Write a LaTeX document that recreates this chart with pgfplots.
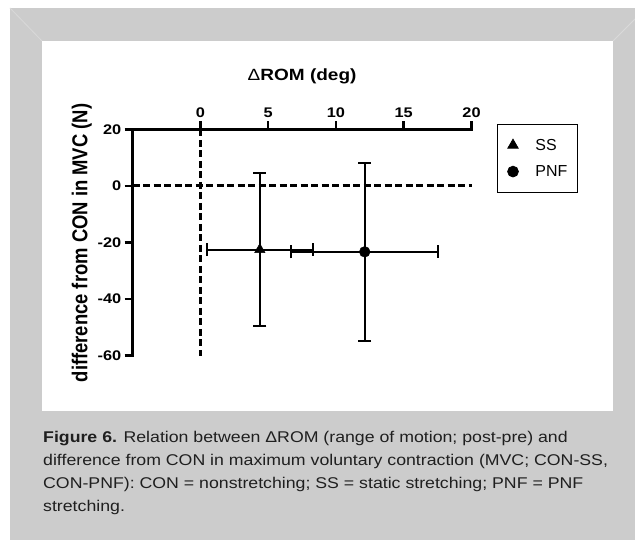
\documentclass[border=0pt]{standalone}
\usepackage{pgfplots}
\pgfplotsset{compat=1.18}
\usepackage{graphicx}
\usetikzlibrary{arrows.meta}
\usepackage{fontspec}
\setmainfont{Liberation Sans}
\newfontfamily\widesans{Liberation Sans}[FakeStretch=1.17]
\newfontfamily\capsans{Liberation Sans}[FakeStretch=1.14]
\definecolor{framegray}{HTML}{CCCCCC}
\definecolor{bevel}{HTML}{D9D9D9}
\begin{document}
\begin{tikzpicture}
\useasboundingbox (0,0) rectangle (635bp,540bp);
\fill[white] (0,0) rectangle (635bp,540bp);
\fill[framegray] (10bp,0bp) rectangle (635bp,532bp);
\fill[white] (42bp,129bp) rectangle (613bp,499bp);
\draw[bevel, line width=0.8bp] (10bp,532bp) -- (42bp,499bp);
\draw[bevel, line width=0.8bp] (635bp,521bp) -- (613bp,499bp);
\begin{axis}[
  scale only axis, width=338.8bp, height=226.4bp,
  at={(132.7bp,184.3bp)}, anchor=south west,
  xmin=-5, xmax=20, ymin=-60, ymax=20,
  axis x line*=top, axis y line*=left,
  axis line style={line width=2.7bp, -, line cap=rect},
  xtick={0,5,10,15,20}, ytick={-60,-40,-20,0,20},
  tick align=outside, major tick length=8bp,
  major tick style={line width=2.5bp, black},
  ticklabel style={font=\widesans\bfseries\fontsize{14}{14}\selectfont},
  /pgf/number format/assume math mode=true,
  xlabel={{\mdseries Δ}ROM (deg)},
  xlabel style={at={(axis description cs:0.5,1.2354)}, anchor=center, font=\widesans\bfseries\fontsize{16.3}{18}\selectfont},
  ylabel={\scalebox{1}[1.17]{difference from CON in MVC (N)}},
  ylabel style={at={(axis description cs:-0.150,0.4978)}, anchor=center, font=\bfseries\fontsize{18.5}{19}\selectfont},
  clip=false,
  legend style={draw=black, line width=0.8bp, at={(1.0744,1.022)}, anchor=north west,
    font=\fontsize{16}{16}\selectfont, inner xsep=10.5bp, inner ysep=14.2bp, row sep=13.8bp, column sep=17bp,
    nodes={inner sep=0bp}},
  legend cell align=left,
]
\addplot[black, line width=2.8bp, dash pattern=on 7bp off 3.5bp, forget plot] coordinates {(0,20) (0,-60)};
\addplot[black, line width=2.8bp, dash pattern=on 7bp off 3.5bp, forget plot] coordinates {(-5,0) (20,0)};
\addplot[black, only marks, mark=triangle*, mark size=6bp,
  error bars/.cd, x dir=both, x explicit, y dir=both, y explicit, error mark=none,
  error bar style={line width=2bp, black, -{Bar[width=13bp,line width=2bp]}}]
  coordinates {(4.38,-22.5) +- (4.0,27.3)};
\addlegendentry{SS}
\addplot[black, only marks, mark=*, mark size=5.4bp,
  error bars/.cd, x dir=both, x explicit, y dir=both, y explicit, error mark=none,
  error bar style={line width=2bp, black, -{Bar[width=13bp,line width=2bp]}}]
  coordinates {(12.12,-23.3) +- (5.5,31.8)};
\addlegendentry{PNF\hspace{3bp}}
\end{axis}
\node[anchor=base west, align=left, inner sep=0, text=black!88, font=\capsans\fontsize{15.6}{23}\selectfont] at (43bp,28.3bp)
{\textbf{Figure 6.} Relation between ΔROM (range of motion; post-pre) and\\
difference from CON in maximum voluntary contraction (MVC; CON-SS,\\
CON-PNF): CON = nonstretching; SS = static stretching; PNF = PNF\\
stretching.};
\end{tikzpicture}
\end{document}
